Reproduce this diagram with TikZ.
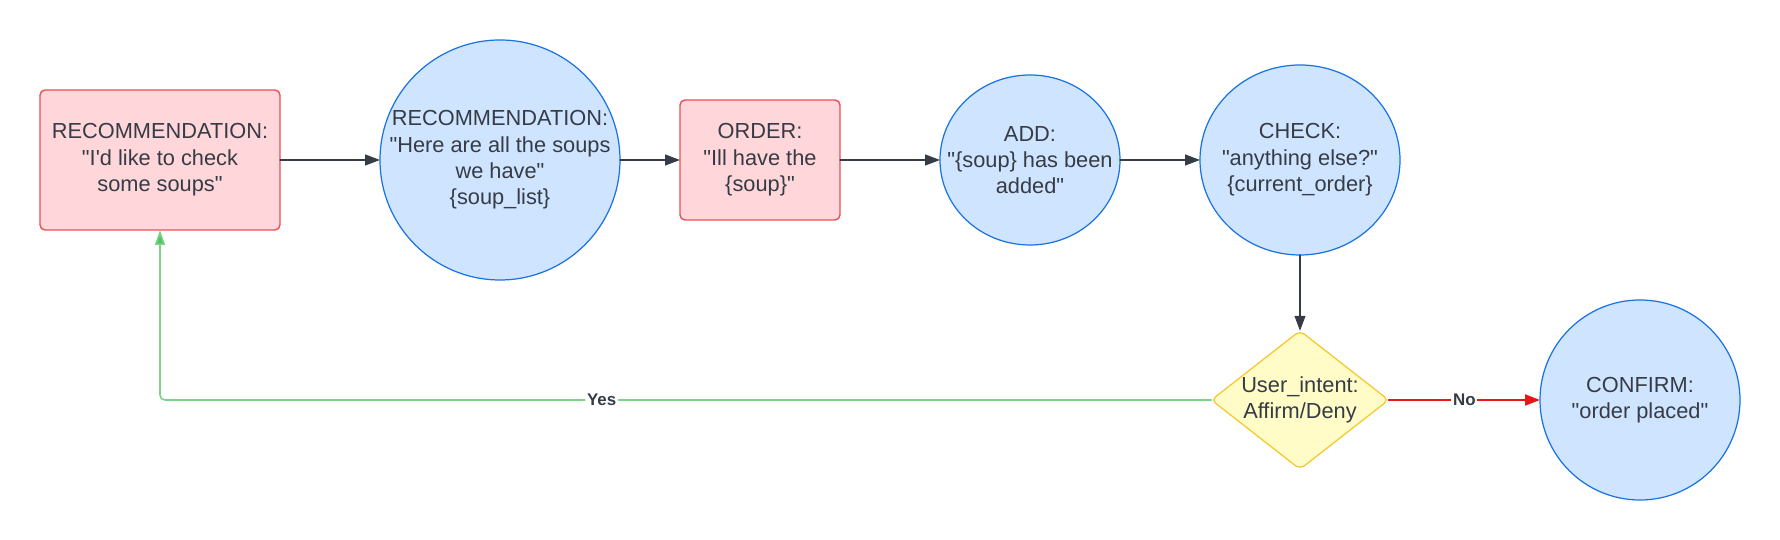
\documentclass[tikz,border=0pt]{standalone}
\usepackage{fontspec}
\setmainfont{Liberation Sans}[Ligatures=TeXOff]
\usepackage{tikz}
\usetikzlibrary{arrows.meta, shapes.geometric}
\definecolor{inkGray}{RGB}{54,60,69}
\definecolor{boxRed}{RGB}{236,80,84}
\definecolor{boxRedFill}{RGB}{255,214,217}
\definecolor{blobBlue}{RGB}{26,115,226}
\definecolor{blobBlueFill}{RGB}{207,228,255}
\definecolor{gemGold}{RGB}{245,200,40}
\definecolor{gemYellow}{RGB}{255,252,200}
\definecolor{yesGreen}{RGB}{126,210,136}
\definecolor{yesTip}{RGB}{80,198,92}
\definecolor{noRed}{RGB}{232,22,22}
\tikzset{
  wordsize/.style={font=\fontsize{6.2pt}{7.5pt}\selectfont},
  askbox/.style={draw=boxRed, fill=boxRedFill, line width=0.4pt, rounded corners=0.05cm, inner sep=0pt, outer sep=0pt},
  replyblob/.style={ellipse, draw=blobBlue, fill=blobBlueFill, line width=0.35pt, inner sep=-0.8cm, outer sep=0pt},
  intentgem/.style={diamond, draw=gemGold, fill=gemYellow, line width=0.35pt, shape aspect=1.28, rounded corners=1.5pt, inner sep=0pt, outer sep=0pt},
  flowline/.style={draw=inkGray, line width=0.35pt, -{Triangle[length=0.15cm, width=0.11cm]}},
  noline/.style={draw=noRed, line width=0.5pt, -{Triangle[length=0.15cm, width=0.11cm]}},
  yesline/.style={draw=yesGreen, line width=0.45pt, rounded corners=0.05cm, -{Triangle[length=0.15cm, width=0.10cm, fill=yesTip]}},
  tag/.style={font=\fontsize{4.8pt}{5.5pt}\selectfont\bfseries, fill=white, inner xsep=0.5pt, inner ysep=0.3pt}
}
\def\scale{1}

\begin{document}
\begin{tikzpicture}[scale=\scale, line cap = round, every node/.style={wordsize, text=inkGray, align=center}]

  \useasboundingbox (0, 0) rectangle (17.8, 5.4);

  \node[askbox, minimum width=2.4cm, minimum height=1.4cm] (askSoups) at (1.6, 3.8) {RECOMMENDATION:\\"I'd like to check\\some soups"};
  \node[replyblob, minimum width=2.4cm, minimum height=2.4cm] (listSoups) at (5.0, 3.8) {RECOMMENDATION:\\"Here are all the soups\\we have"\\\{soup\_list\}};
  \node[askbox, minimum width=1.6cm, minimum height=1.2cm] (orderSoup) at (7.6, 3.8) {ORDER:\\"Ill have the\\\{soup\}"};
  \node[replyblob, minimum width=1.8cm, minimum height=1.7cm] (addSoup) at (10.3, 3.8) {ADD:\\"\{soup\} has been\\added"};
  \node[replyblob, minimum width=2.0cm, minimum height=1.9cm] (checkMore) at (13.0, 3.8) {CHECK:\\"anything else?"\\\{current\_order\}};
  \node[intentgem] (userIntent) at (13.0, 1.4) {User\_intent:\\Affirm/Deny};
  \node[replyblob, minimum width=2.0cm, minimum height=2.0cm] (confirmOrder) at (16.4, 1.4) {CONFIRM:\\"order placed"};

  \draw[flowline] (askSoups) -- (listSoups);
  \draw[flowline] (listSoups) -- (orderSoup);
  \draw[flowline] (orderSoup) -- (addSoup);
  \draw[flowline] (addSoup) -- (checkMore);
  \draw[flowline] (checkMore) -- (userIntent);

  \draw[noline] (userIntent) -- node[tag] {No} (confirmOrder);
  \draw[yesline] (userIntent.west) -| node[tag, pos=0.29] {Yes} (askSoups.south);
\end{tikzpicture}
\end{document}
